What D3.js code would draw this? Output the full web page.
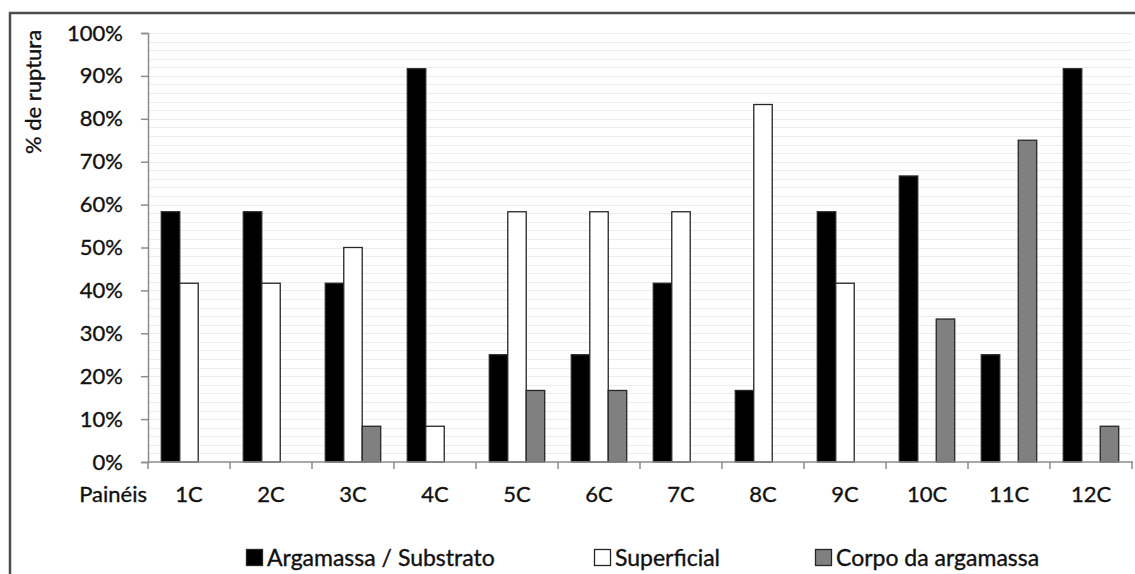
<!DOCTYPE html>
<html>
<head>
<meta charset="utf-8">
<script src="https://cdn.jsdelivr.net/npm/d3@7"></script>
<style>
  html, body { margin: 0; padding: 0; background: #fff; }
  svg { display: block; font-family: Lato, "Open Sans", sans-serif; }
  svg text { stroke: #111; stroke-width: 0.35px; }
</style>
</head>
<body>
<svg id="chart" width="1135" height="574"></svg>
<script>
// ---- data ----
const categories = ["1C","2C","3C","4C","5C","6C","7C","8C","9C","10C","11C","12C"];
const seriesNames = ["Argamassa / Substrato", "Superficial", "Corpo da argamassa"];
const argamassaSubstrato = [58.33, 58.33, 41.67, 91.67, 25, 25, 41.67, 16.67, 58.33, 66.67, 25, 91.67];
const superficial        = [41.67, 41.67, 50, 8.33, 58.33, 58.33, 58.33, 83.33, 41.67, 0, 0, 0];
const corpoArgamassa     = [0, 0, 8.33, 0, 16.67, 16.67, 0, 0, 0, 33.33, 75, 8.33];
const yTicks = [0,10,20,30,40,50,60,70,80,90,100];
const yTickLabels = ["0%","10%","20%","30%","40%","50%","60%","70%","80%","90%","100%"];
const yGrid = [2,4,6,8,10,12,14,16,18,20,22,24,26,28,30,32,34,36,38,40,42,44,46,48,50,52,54,56,58,60,62,64,66,68,70,72,74,76,78,80,82,84,86,88,90,92,94,96,98,100];

const seriesValues = [argamassaSubstrato, superficial, corpoArgamassa];
const fills = ["#000000", "#ffffff", "#808080"];

const svg = d3.select("#chart");

// frame
svg.append("rect")
  .attr("x", 10).attr("y", 13).attr("width", 1300).attr("height", 700)
  .attr("fill", "none").attr("stroke", "#4d4d4d").attr("stroke-width", 2.5);

const plotLeft = 148, plotRight = 1132, plotTop = 33, plotBottom = 462;

const x0 = d3.scaleBand().domain(categories).range([plotLeft, plotRight]).paddingInner(0).paddingOuter(0);
const x1 = d3.scaleBand().domain(d3.range(3)).range([0, x0.bandwidth()]).paddingInner(0).paddingOuter(0.72);
const y = d3.scaleLinear().domain([0, 100]).range([plotBottom, plotTop]);

// gridlines
svg.append("g").selectAll("line").data(yGrid).join("line")
  .attr("x1", plotLeft).attr("x2", plotRight)
  .attr("y1", d => Math.round(y(d)) + 0.5).attr("y2", d => Math.round(y(d)) + 0.5)
  .attr("stroke", "#ececec").attr("stroke-width", 1);

// bars
const groups = svg.append("g").selectAll("g").data(categories).join("g")
  .attr("transform", d => `translate(${x0(d)},0)`);
groups.selectAll("rect")
  .data((c, i) => seriesValues.map((vals, s) => ({ s, v: vals[i] })).filter(d => d.v > 0))
  .join("rect")
  .attr("x", d => x1(d.s))
  .attr("width", x1.bandwidth())
  .attr("y", d => y(d.v))
  .attr("height", d => y(0) - y(d.v))
  .attr("fill", d => fills[d.s])
  .attr("stroke", "#262626")
  .attr("stroke-width", 1.3);

// y axis
const yAxis = d3.axisLeft(y).tickValues(yTicks).tickFormat((d, i) => yTickLabels[i]).tickSize(7).tickPadding(18);
const gy = svg.append("g").attr("transform", `translate(${plotLeft},0)`).call(yAxis);
gy.select(".domain").attr("stroke", "#8c8c8c").attr("stroke-width", 1.5);
gy.selectAll(".tick line").attr("stroke", "#8c8c8c").attr("stroke-width", 1.5);
gy.selectAll(".tick text").attr("font-size", 22).attr("fill", "#111").attr("font-family", "Lato");

// x axis
const gx = svg.append("g").attr("transform", `translate(0,${plotBottom})`);
gx.append("line").attr("x1", plotLeft).attr("x2", plotRight + 1).attr("y1", 0).attr("y2", 0)
  .attr("stroke", "#8c8c8c").attr("stroke-width", 1.5);
const edges = categories.map(c => x0(c)).concat([plotRight]);
gx.selectAll("line.edge").data(edges).join("line").attr("class", "edge")
  .attr("x1", d => d).attr("x2", d => d).attr("y1", 0).attr("y2", 7)
  .attr("stroke", "#8c8c8c").attr("stroke-width", 1.5);
gx.selectAll("text.cat").data(categories).join("text").attr("class", "cat")
  .attr("x", d => x0(d) + x0.bandwidth() / 2).attr("y", 40)
  .attr("text-anchor", "middle").attr("font-size", 22).attr("fill", "#111")
  .text(d => d);
gx.append("text").attr("x", 147).attr("y", 40).attr("text-anchor", "end")
  .attr("font-size", 22).attr("fill", "#111").text("Painéis");

// y title
svg.append("text")
  .attr("transform", "translate(41,92) rotate(-90)")
  .attr("text-anchor", "middle").attr("font-size", 22).attr("fill", "#111")
  .text("% de ruptura");

// legend
const legendX = [246, 594, 815];
const lg = svg.append("g").selectAll("g").data(seriesNames).join("g")
  .attr("transform", (d, i) => `translate(${legendX[i]},549)`);
lg.append("rect").attr("x", 0.5).attr("y", 0.5).attr("width", 16).attr("height", 16)
  .attr("fill", (d, i) => fills[i]).attr("stroke", "#262626").attr("stroke-width", 1.3);
lg.append("text").attr("x", 21).attr("y", 16.5).attr("font-size", 23).attr("fill", "#111")
  .text(d => d);
</script>
</body>
</html>
